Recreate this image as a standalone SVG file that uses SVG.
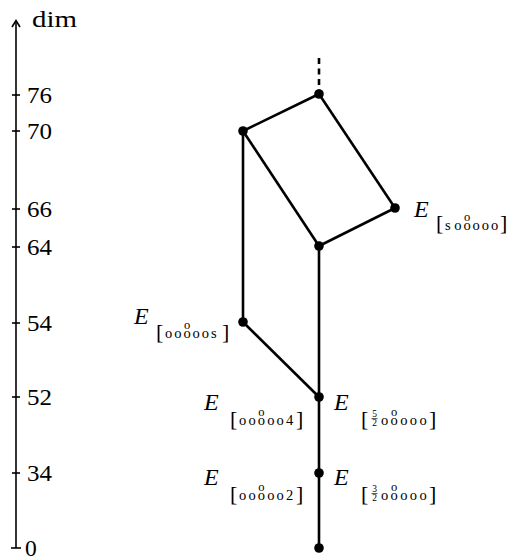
<svg xmlns="http://www.w3.org/2000/svg" width="507" height="556" viewBox="0 0 507 556" font-family="'Liberation Serif', 'Times New Roman', 'DejaVu Serif', serif">
<style>
.ax{stroke:#000;stroke-width:1.6;fill:none}
.e{stroke:#000;stroke-width:2.6;fill:none}
.n{fill:#000}
text{fill:#000}
.lab{font-size:23.5px}
.E{font-size:24px;font-style:italic}
.br{font-size:22px}
.sub{font-size:14.5px}
.top{font-size:12.5px}
.fr{font-size:9.5px}
.bar{stroke:#000;stroke-width:0.7}
</style>
<rect width="507" height="556" fill="#fff"/>
<g id="axis">
<line class="ax" x1="16" y1="548" x2="16" y2="21"/>
<polyline class="ax" points="12,27 16,20.5 20,27"/>
<line class="ax" x1="11" y1="548" x2="21" y2="548"/>
<line class="ax" x1="12" y1="95" x2="20" y2="95"/>
<line class="ax" x1="12" y1="131" x2="20" y2="131"/>
<line class="ax" x1="12" y1="209" x2="20" y2="209"/>
<line class="ax" x1="12" y1="247" x2="20" y2="247"/>
<line class="ax" x1="12" y1="323" x2="20" y2="323"/>
<line class="ax" x1="12" y1="397" x2="20" y2="397"/>
<line class="ax" x1="12" y1="473" x2="20" y2="473"/>
<text class="lab" x="32" y="27" textLength="45" lengthAdjust="spacingAndGlyphs">dim</text>
<text class="lab" x="27" y="103" textLength="25" lengthAdjust="spacingAndGlyphs">76</text>
<text class="lab" x="27" y="139" textLength="25" lengthAdjust="spacingAndGlyphs">70</text>
<text class="lab" x="27" y="217" textLength="25" lengthAdjust="spacingAndGlyphs">66</text>
<text class="lab" x="27" y="255" textLength="25" lengthAdjust="spacingAndGlyphs">64</text>
<text class="lab" x="27" y="331" textLength="25" lengthAdjust="spacingAndGlyphs">54</text>
<text class="lab" x="27" y="405" textLength="25" lengthAdjust="spacingAndGlyphs">52</text>
<text class="lab" x="27" y="481" textLength="25" lengthAdjust="spacingAndGlyphs">34</text>
<text class="lab" x="25" y="556">0</text>
</g>
<g id="connectors">
<line class="e" x1="319" y1="58" x2="319" y2="90" stroke-dasharray="6,4.5"/>
<line class="e" x1="319" y1="94" x2="243" y2="131"/>
<line class="e" x1="319" y1="94" x2="395" y2="208"/>
<line class="e" x1="243" y1="131" x2="319" y2="246"/>
<line class="e" x1="395" y1="208" x2="319" y2="246"/>
<line class="e" x1="243" y1="131" x2="243" y2="322"/>
<line class="e" x1="243" y1="322" x2="319" y2="397"/>
<line class="e" x1="319" y1="246" x2="319" y2="548"/>
</g>
<g id="n76"><circle class="n" cx="319" cy="94" r="4.8"/></g>
<g id="n70"><circle class="n" cx="243" cy="131" r="4.8"/></g>
<g id="n66"><circle class="n" cx="395" cy="208" r="4.8"/>
<text class="E" x="414" y="217">E</text>
<text class="br" x="436" y="230">[</text>
<text class="sub" x="445 454.2 463.4 472.6 481.8 491" y="230">sooooo</text>
<text class="top" x="467" y="221" text-anchor="middle">o</text>
<text class="br" x="500" y="230">]</text>
</g>
<g id="n64"><circle class="n" cx="319" cy="246" r="4.8"/></g>
<g id="n54"><circle class="n" cx="243" cy="322" r="4.8"/>
<text class="E" x="134" y="324">E</text>
<text class="br" x="156" y="339">[</text>
<text class="sub" x="165 174.2 183.4 192.6 201.8 211" y="337.5">ooooos</text>
<text class="top" x="187" y="328.5" text-anchor="middle">o</text>
<text class="br" x="222" y="339">]</text>
</g>
<g id="n52"><circle class="n" cx="319" cy="397" r="4.8"/>
<text class="E" x="204" y="410">E</text>
<text class="br" x="230" y="426">[</text>
<text class="sub" x="239 248.4 257.8 267.2 276.6 286" y="424.5">ooooo4</text>
<text class="top" x="261.4" y="415.5" text-anchor="middle">o</text>
<text class="br" x="296" y="426">]</text>
<text class="E" x="334" y="410">E</text>
<text class="br" x="361" y="426">[</text>
<text class="fr" x="374.5" y="417" text-anchor="middle">5</text>
<line class="bar" x1="371.5" y1="418.6" x2="377.5" y2="418.6"/>
<text class="fr" x="374.5" y="426" text-anchor="middle">2</text>
<text class="sub" x="381 390.6 400.2 409.8 419.4" y="424.5">ooooo</text>
<text class="top" x="394.2" y="415.5" text-anchor="middle">o</text>
<text class="br" x="429" y="426">]</text>
</g>
<g id="n34"><circle class="n" cx="319" cy="473" r="4.8"/>
<text class="E" x="204" y="485">E</text>
<text class="br" x="230" y="501">[</text>
<text class="sub" x="239 248.4 257.8 267.2 276.6 286" y="499.5">ooooo2</text>
<text class="top" x="261.4" y="490.5" text-anchor="middle">o</text>
<text class="br" x="296" y="501">]</text>
<text class="E" x="334" y="485">E</text>
<text class="br" x="361" y="501">[</text>
<text class="fr" x="374.5" y="492" text-anchor="middle">3</text>
<line class="bar" x1="371.5" y1="493.6" x2="377.5" y2="493.6"/>
<text class="fr" x="374.5" y="501" text-anchor="middle">2</text>
<text class="sub" x="381 390.6 400.2 409.8 419.4" y="499.5">ooooo</text>
<text class="top" x="394.2" y="490.5" text-anchor="middle">o</text>
<text class="br" x="429" y="501">]</text>
</g>
<g id="n0"><circle class="n" cx="319" cy="548" r="4.8"/></g>
</svg>
